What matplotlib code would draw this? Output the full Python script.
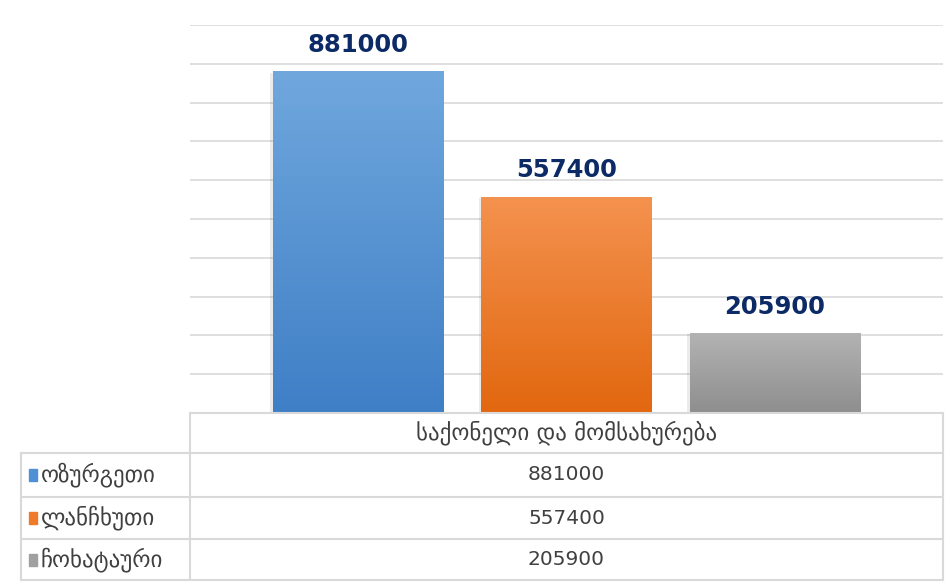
import numpy as np
import matplotlib
matplotlib.use('Agg')
import matplotlib.pyplot as plt
import matplotlib.patheffects as pe
from matplotlib.colors import LinearSegmentedColormap
from matplotlib.patches import Rectangle

# data
category = 'საქონელი და მომსახურება'
regions = ['ოზურგეთი', 'ლანჩხუთი', 'ჩოხატაური']
values = [881000, 557400, 205900]

top_colors = ['#70A7DD', '#F4924F', '#B3B3B3']
bottom_colors = ['#3F7FC6', '#E2670F', '#8E8E8E']
key_colors = ['#4F8FD5', '#EE7A2A', '#A0A0A0']
grid_c = '#D9D9D9'
text_c = '#404040'

plt.rcParams['font.family'] = ['DejaVu Sans']

W, H = 953, 582
fig = plt.figure(figsize=(W / 100, H / 100), dpi=100)

# plot area in pixels
left, right, top, base = 190, 943, 25, 413
ax = fig.add_axes([left / W, 1 - base / H, (right - left) / W, (base - top) / H])

bar_w = 0.226
xpos = (np.arange(len(values)) - 1) * 0.2765
bars = ax.bar(xpos, values, width=bar_w, color=bottom_colors, zorder=3,
              path_effects=[pe.SimplePatchShadow(offset=(-2, -1), alpha=0.08, shadow_rgbFace='k'), pe.Normal()])

grad = np.linspace(0, 1, 256)[:, None]
for bar, c0, c1 in zip(bars, top_colors, bottom_colors):
    x0 = bar.get_x()
    x1 = x0 + bar.get_width()
    cmap = LinearSegmentedColormap.from_list('g', [c0, c1])
    im = ax.imshow(grad, cmap=cmap, extent=[x0, x1, 0, bar.get_height()],
                   aspect='auto', origin='upper', zorder=4)
    im.set_clip_path(bar)
    ax.annotate(f'{bar.get_height():.0f}', (x0 + bar.get_width() / 2, bar.get_height()),
                xytext=(0, 14), textcoords='offset points', ha='center', va='baseline',
                fontsize=17.5, fontweight='bold', color='#0B2A66', zorder=5)

ax.set_xlim(-0.5, 0.5)
ax.set_ylim(0, 1000000)
ax.set_yticks(np.arange(0, 1000001, 100000))
ax.set_xticks([])
ax.tick_params(left=False, labelleft=False)
ax.grid(axis='y', color=grid_c, lw=1.2, zorder=0)
for s in ax.spines.values():
    s.set_visible(False)

# data table below the plot, drawn in pixel coords
tab = fig.add_axes([0, 0, 1, 1])
tab.set_xlim(0, W)
tab.set_ylim(H, 0)
tab.axis('off')

tl = 21
rows = [413, 453, 497, 539, 580]
tab.plot([left, right], [rows[0], rows[0]], color=grid_c, lw=1.5)
for y in rows[1:]:
    tab.plot([tl, right], [y, y], color=grid_c, lw=1.5)
tab.plot([left, left], [rows[0], rows[-1]], color=grid_c, lw=1.5)
tab.plot([right, right], [rows[0], rows[-1]], color=grid_c, lw=1.5)
tab.plot([tl, tl], [rows[1], rows[-1]], color=grid_c, lw=1.5)

cx = (left + right) / 2
tab.text(cx, (rows[0] + rows[1]) / 2, category, ha='center', va='center',
         fontsize=16.5, color=text_c)
for i, (name, v, kc) in enumerate(zip(regions, values, key_colors)):
    cy = (rows[i + 1] + rows[i + 2]) / 2
    tab.add_patch(Rectangle((29, cy - 6), 8, 12, color=kc))
    tab.text(41, cy, name, ha='left', va='center', fontsize=16.5, color=text_c)
    tab.text(cx, cy, f'{v}', ha='center', va='center', fontsize=14.5, color=text_c)

fig.savefig('out.png', dpi=100)
